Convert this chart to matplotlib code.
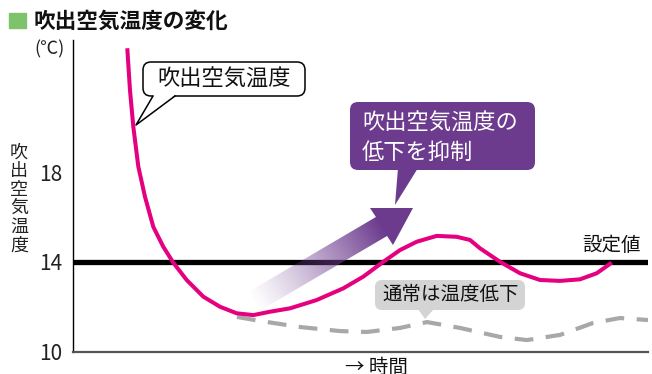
import numpy as np
import matplotlib.pyplot as plt
from matplotlib.patches import FancyBboxPatch, Polygon, Rectangle
from matplotlib.lines import Line2D

plt.rcParams['font.family'] = ['Noto Sans CJK JP', 'DejaVu Sans']

# 吹出空気温度 (抑制あり) : 時間 0-100, 温度 ℃
t_pink = [9.44, 9.91, 10.49, 11.36, 12.52, 13.97, 15.70, 17.44, 19.77, 22.66, 25.57,
          28.47, 31.36, 34.26, 37.74, 42.38, 47.01, 50.49, 53.97, 56.87, 59.77, 63.25,
          66.73, 69.04, 70.78, 74.26, 77.74, 81.22, 84.70, 88.17, 91.08, 93.69]
v_pink = [23.50, 21.64, 20.01, 18.24, 16.90, 15.56, 14.68, 13.97, 13.20, 12.46, 12.01,
          11.72, 11.64, 11.79, 11.94, 12.31, 12.83, 13.35, 14.01, 14.53, 14.90, 15.16,
          15.12, 14.98, 14.61, 14.01, 13.50, 13.20, 13.16, 13.23, 13.50, 13.97]

# 通常の吹出温度 (低下)
t_gray = [28.52, 32.52, 39.48, 46.43, 51.13, 56.87, 61.57, 67.30, 74.26, 78.96,
          84.70, 90.43, 95.13, 100.0]
v_gray = [11.56, 11.38, 11.11, 10.93, 10.89, 11.07, 11.33, 11.07, 10.67, 10.53,
          10.76, 11.29, 11.51, 11.42]

setpoint = 14
yticks = [10, 14, 18]

W, H = 652, 374
fig = plt.figure(figsize=(W / 100, H / 100), dpi=100)

# グラフ領域 (ピクセル位置から)
ax = fig.add_axes([73 / W, (H - 352) / H, (648 - 73) / W, (352 - 40) / H])
ax.set_xlim(0, 100)
ax.set_ylim(10, 10 + (352 - 40) / 22.5)
ax.set_yticks(yticks)
ax.set_yticklabels([str(v) for v in yticks], fontsize=15, color='#222222')
ax.tick_params(axis='y', length=0, pad=8)
ax.set_xticks([])
for s in ['top', 'right']:
    ax.spines[s].set_visible(False)
ax.spines['left'].set_color('black')
ax.spines['left'].set_linewidth(1.0)
ax.spines['bottom'].set_color('#555555')
ax.spines['bottom'].set_linewidth(1.6)

ax.axhline(setpoint, color='black', lw=3.8, zorder=2)
ax.plot(t_gray, v_gray, color='#A8A8A8', lw=3, dashes=(4.5, 3), solid_capstyle='butt',
        solid_joinstyle='round', zorder=3)
ax.plot(t_pink, v_pink, color='#E4007F', lw=2.9, solid_capstyle='butt',
        solid_joinstyle='round', zorder=4)

# 注記用のオーバーレイ (ピクセル座標)
ov = fig.add_axes([0, 0, 1, 1], zorder=5)
ov.set_xlim(0, W)
ov.set_ylim(H, 0)
ov.axis('off')
ov.patch.set_alpha(0)

# タイトル
ov.add_patch(Rectangle((9, 13), 17, 15, color='#7DC36C'))
ov.text(34, 21, '吹出空気温度の変化', fontsize=15.6, fontweight='bold', va='center', ha='left',
        color='#111111')
ov.text(50, 49, '(℃)', fontsize=13, va='center', ha='center', color='#222222')
ov.text(19, 199, '吹\n出\n空\n気\n温\n度', fontsize=13, va='center', ha='center',
        linespacing=1.05, color='#222222')

# 白い吹き出し
ov.add_patch(FancyBboxPatch((143, 62), 162, 34, boxstyle='round,pad=0,rounding_size=8',
                            fc='white', ec='black', lw=1.1))
ov.add_patch(Polygon([(153, 95), (175, 95), (136, 125)], closed=True, fc='white', ec='none'))
ov.add_line(Line2D([153, 136, 175], [96, 125, 96], color='black', lw=1.1))
ov.text(224, 79, '吹出空気温度', fontsize=16, va='center', ha='center', color='#111111')

# 紫の吹き出し
purple = '#6D3B8E'
ov.add_patch(FancyBboxPatch((350, 102), 185, 68, boxstyle='round,pad=0,rounding_size=8',
                            fc=purple, ec='none'))
ov.add_patch(Polygon([(398, 168), (418, 168), (395, 205)], closed=True, fc=purple, ec='none'))
ov.text(362, 123, '吹出空気温度の', fontsize=16, va='center', ha='left', color='white')
ov.text(362, 152, '低下を抑制', fontsize=16, va='center', ha='left', color='white')

# グラデーション矢印
tip = np.array([413.0, 208.0])
b1 = np.array([370.0, 208.0])
b2 = np.array([393.0, 245.0])
mid = (b1 + b2) / 2
d = (tip - mid) / np.linalg.norm(tip - mid)
n = np.array([d[1], -d[0]])
hw = 11
tail = mid - 150 * d
up, dn = (b1, b2) if np.dot(b1 - mid, n) > 0 else (b2, b1)
arrow_pts = [tail + n * hw, mid + n * hw, up, tip, dn, mid - n * hw, tail - n * hw]
arrow = Polygon(arrow_pts, closed=True, fc='none', ec='none')
ov.add_patch(arrow)
xs = np.arange(240, 430)
ys = np.arange(190, 320)
XX, YY = np.meshgrid(xs, ys)
proj = ((XX - tail[0]) * d[0] + (YY - tail[1]) * d[1]) / 150
alpha = np.clip(proj, 0, 1) ** 1.2
rgb = np.array([0x6D, 0x3B, 0x8E]) / 255
img = np.zeros((len(ys), len(xs), 4))
img[..., :3] = rgb
img[..., 3] = alpha
im = ov.imshow(img, extent=(xs[0], xs[-1], ys[-1], ys[0]), aspect='auto', zorder=1,
               interpolation='bilinear')
im.set_clip_path(arrow)
ov.set_xlim(0, W)
ov.set_ylim(H, 0)

# 灰色の吹き出し
ov.add_patch(FancyBboxPatch((375, 280), 150, 30, boxstyle='round,pad=0,rounding_size=7',
                            fc='#D4D4D4', ec='none'))
ov.add_patch(Polygon([(418, 309), (434, 309), (425, 319)], closed=True, fc='#D4D4D4', ec='none'))
ov.text(382, 295, '通常は温度低下', fontsize=14, va='center', ha='left', color='#111111')

ov.text(582, 245, '設定値', fontsize=14, va='center', ha='left', color='#111111')
ov.text(345, 367, '→ 時間', fontsize=14, va='center', ha='left', color='#111111')

fig.savefig('out.png', dpi=100)
